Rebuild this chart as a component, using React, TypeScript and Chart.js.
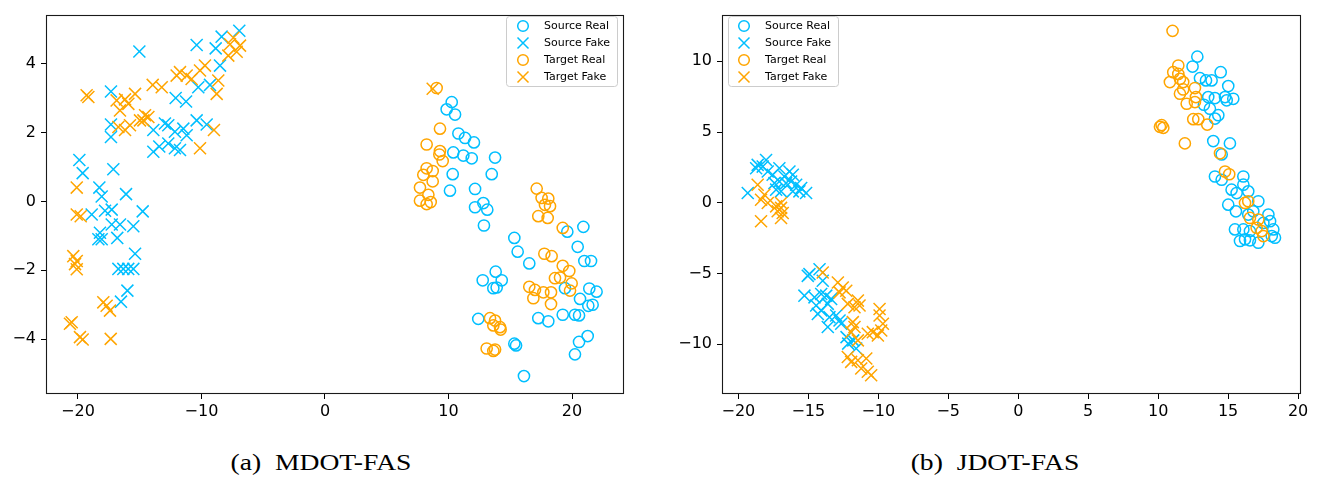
import React, { useEffect, useRef } from "react";
import { Chart, registerables } from "chart.js";

Chart.register(...registerables);

const SOURCE_COLOR = "#00BFFF";
const TARGET_COLOR = "#FFA500";
const legendLabels = ["Source Real", "Source Fake", "Target Real", "Target Fake"];
const captions = ["(a)  MDOT-FAS", "(b)  JDOT-FAS"];

const mdotXTicks = [-20, -10, 0, 10, 20];
const mdotYTicks = [-4, -2, 0, 2, 4];
const jdotXTicks = [-20, -15, -10, -5, 0, 5, 10, 15, 20];
const jdotYTicks = [-10, -5, 0, 5, 10];

type P = [number, number];

// ---------- (a) MDOT-FAS ----------
const mdotSourceReal: P[] = [
  [10.26, 2.88], [9.85, 2.67], [10.53, 2.52], [10.8, 1.97], [11.34, 1.84], [12.06, 1.71],
  [10.39, 1.42], [11.2, 1.33], [11.88, 1.25], [13.77, 1.27], [10.34, 0.79], [13.5, 0.79],
  [10.12, 0.31], [12.15, 0.36], [12.82, -0.05], [12.15, -0.17], [13.14, -0.24], [12.87, -0.7],
  [15.33, -1.06], [19.62, -0.88], [20.92, -0.74], [15.6, -1.46], [20.46, -1.32], [16.54, -1.8],
  [21.0, -1.73], [21.54, -1.73], [13.82, -2.04], [12.77, -2.29], [14.31, -2.29], [13.63, -2.52],
  [13.9, -2.5], [19.43, -2.52], [21.4, -2.53], [21.99, -2.62], [20.65, -2.83], [21.32, -3.03],
  [21.67, -3.0], [12.41, -3.41], [17.27, -3.39], [18.08, -3.48], [19.25, -3.29], [20.24, -3.29],
  [20.57, -3.31], [15.33, -4.13], [15.47, -4.18], [21.27, -3.91], [20.57, -4.08], [20.24, -4.44],
  [16.11, -5.07],
];
const mdotSourceFake: P[] = [
  [-6.94, 4.95], [-8.37, 4.78], [-10.39, 4.54], [-8.85, 4.44], [-15.03, 4.35], [-8.5, 3.94],
  [-17.33, 3.19], [-12.09, 3.0], [-11.25, 2.9], [-10.26, 3.31], [-9.31, 3.38], [-17.33, 2.23],
  [-17.33, 1.87], [-13.9, 2.07], [-12.96, 2.26], [-12.69, 2.21], [-12.15, 2.02], [-11.47, 2.11],
  [-11.2, 1.92], [-10.39, 2.35], [-9.58, 2.23], [-13.9, 1.44], [-13.42, 1.59], [-12.69, 1.68],
  [-12.15, 1.54], [-11.74, 1.49], [-19.89, 1.2], [-19.62, 0.82], [-17.14, 0.93], [-18.27, 0.4],
  [-18.08, 0.14], [-16.11, 0.21], [-17.81, -0.27], [-17.27, -0.24], [-14.76, -0.29], [-18.89, -0.38],
  [-17.27, -0.67], [-16.6, -0.67], [-15.52, -0.72], [-18.22, -0.91], [-18.35, -1.1], [-18.08, -1.1],
  [-16.82, -1.06], [-15.38, -1.52], [-16.73, -1.96], [-16.33, -1.96], [-15.93, -1.96], [-15.52, -1.96],
  [-16.0, -2.59], [-16.52, -2.91],
];
const mdotTargetReal: P[] = [
  [9.04, 3.29], [9.31, 2.11], [8.23, 1.65], [9.31, 1.46], [9.26, 1.36], [9.53, 1.17],
  [8.23, 0.96], [7.96, 0.77], [8.72, 0.88], [8.72, 0.58], [7.69, 0.4], [8.37, 0.19],
  [7.69, 0.02], [8.23, -0.08], [8.56, -0.02], [17.14, 0.37], [17.54, 0.1], [18.08, 0.08],
  [17.81, -0.1], [18.22, -0.14], [17.27, -0.43], [18.03, -0.48], [19.25, -0.77], [17.76, -1.52],
  [18.35, -1.59], [19.25, -1.87], [19.78, -2.02], [18.62, -2.23], [19.03, -2.21], [19.97, -2.38],
  [19.84, -2.59], [16.54, -2.48], [17.0, -2.57], [16.87, -2.81], [18.3, -2.64], [18.3, -2.98],
  [17.68, -2.64], [13.36, -3.39], [13.77, -3.46], [13.63, -3.6], [14.17, -3.65], [14.22, -3.72],
  [13.09, -4.27], [13.63, -4.34], [13.77, -4.3],
];
const mdotTargetFake: P[] = [
  [-7.42, 4.75], [-7.69, 4.56], [-6.88, 4.52], [-7.15, 4.34], [-7.83, 4.23], [-9.72, 3.94],
  [-10.12, 3.8], [-11.74, 3.75], [-12.01, 3.65], [-11.2, 3.65], [-10.8, 3.55], [-8.64, 3.51],
  [-8.77, 3.12], [-13.95, 3.38], [-13.22, 3.31], [-15.38, 3.12], [-19.3, 3.08], [-19.16, 3.03],
  [-16.87, 2.93], [-16.19, 2.96], [-15.92, 2.83], [-16.6, 2.64], [-14.57, 2.5], [-14.3, 2.45],
  [-14.7, 2.35], [-14.98, 2.35], [-16.73, 2.16], [-16.19, 2.07], [-15.79, 2.21], [-8.99, 2.07],
  [-10.12, 1.54], [-20.1, 0.4], [-20.1, -0.38], [-19.78, -0.43], [-20.38, -1.59], [-20.1, -1.73],
  [-20.24, -1.82], [-20.1, -1.97], [-17.95, -2.93], [-17.68, -3.03], [-17.41, -3.17], [-20.51, -3.51],
  [-20.65, -3.55], [-19.84, -3.94], [-19.62, -4.01], [-17.35, -3.99], [8.72, 3.27],
];

// ---------- (b) JDOT-FAS ----------
const jdotSourceReal: P[] = [
  [12.8, 10.33], [12.46, 9.63], [14.47, 9.23], [12.99, 8.81], [13.42, 8.65], [13.82, 8.65],
  [15.01, 8.25], [13.58, 7.47], [14.06, 7.4], [14.78, 7.47], [15.37, 7.35], [14.9, 7.24],
  [13.27, 6.93], [13.7, 6.65], [14.3, 6.19], [14.06, 5.95], [13.94, 4.36], [15.13, 4.2],
  [14.54, 3.42], [14.06, 1.86], [14.54, 1.63], [16.09, 1.86], [16.09, 1.28], [15.25, 0.93],
  [15.61, 0.69], [16.44, 0.81], [15.01, -0.13], [15.56, -0.6], [17.16, 0.11], [16.8, -0.6],
  [16.44, -0.83], [17.88, -0.83], [18.0, -1.3], [17.52, -1.42], [18.23, -1.88], [18.35, -2.47],
  [15.49, -1.88], [16.09, -1.88], [16.56, -2.0], [15.85, -2.7], [16.21, -2.58], [16.56, -2.65],
  [17.16, -2.82], [18.12, -2.35],
];
const jdotSourceFake: P[] = [
  [-18.02, 3.03], [-18.62, 2.68], [-18.73, 2.44], [-18.26, 2.56], [-17.9, 2.21], [-17.07, 2.44],
  [-17.55, 1.98], [-16.35, 2.21], [-16.11, 1.98], [-16.71, 1.86], [-17.07, 1.51], [-16.59, 1.39],
  [-16.23, 1.51], [-15.87, 1.28], [-15.51, 1.04], [-15.16, 0.69], [-15.64, 0.81], [-19.33, 0.69],
  [-17.3, 0.93], [-16.95, 0.81], [-16.11, 0.81], [-17.42, 1.39],
  [-15.04, -5.16], [-14.92, -5.04], [-14.2, -4.69], [-13.97, -5.51], [-15.28, -6.56], [-14.56, -6.68],
  [-14.08, -6.44], [-13.72, -6.56], [-13.37, -6.79], [-13.61, -7.14], [-14.44, -7.26], [-14.08, -7.61],
  [-14.32, -7.85], [-13.49, -8.08], [-13.01, -7.96], [-12.77, -8.32], [-12.65, -8.55], [-13.61, -8.78],
  [-12.27, -9.49], [-12.15, -9.95], [-11.79, -9.72], [-11.58, -10.3],
];
const jdotTargetReal: P[] = [
  [11.03, 12.15], [11.44, 9.7], [11.08, 9.23], [11.44, 9.11], [10.84, 8.53], [11.56, 8.76],
  [11.79, 8.53], [11.79, 8.01], [11.56, 7.71], [12.63, 8.11], [12.7, 7.47], [12.04, 7.0],
  [12.63, 7.12], [12.51, 5.91], [12.87, 5.91], [13.51, 5.53], [10.13, 5.37], [10.25, 5.49],
  [10.37, 5.3], [11.91, 4.2], [14.42, 3.5], [14.78, 2.21], [15.08, 2.02], [16.21, -0.01],
  [16.44, 0.11], [16.56, -1.07], [17.16, -1.18], [17.04, -1.77], [17.4, -2.0], [17.52, -2.35],
];
const jdotTargetFake: P[] = [
  [-18.62, 1.28], [-18.14, 0.57], [-18.38, 0.22], [-17.9, -0.01], [-17.3, -0.25], [-16.95, -0.36],
  [-17.19, -0.6], [-16.83, -0.72], [-16.95, -1.07], [-18.38, -1.3], [-16.95, -0.01],
  [-13.97, -4.93], [-12.89, -5.63], [-12.54, -5.98], [-12.77, -6.33], [-12.29, -6.21], [-12.18, -7.14],
  [-11.46, -6.91], [-11.34, -7.26], [-11.7, -7.38], [-9.91, -7.5], [-9.91, -7.96], [-9.67, -8.55],
  [-11.82, -8.43], [-11.7, -8.78], [-11.94, -9.14], [-10.75, -9.25], [-10.39, -9.14], [-10.03, -9.37],
  [-9.79, -9.02], [-11.46, -9.72], [-12.18, -10.89], [-11.94, -11.24], [-11.46, -11.12], [-10.86, -11.0],
  [-11.22, -11.71], [-10.75, -11.94], [-10.51, -12.18],
];

const fmt = (v: number) => (v < 0 ? "\u2212" + Math.abs(v) : String(v));
const toPts = (a: P[]) => a.map(([x, y]) => ({ x, y }));

const CIRCLE_R = 5.6;
const CROSS_R = 8.5;
const MARK_W = 1.5;

function makeDatasets(sr: P[], sf: P[], tr: P[], tf: P[]) {
  const defs = [
    { data: sr, color: SOURCE_COLOR, style: "circle", r: CIRCLE_R, order: 4 },
    { data: sf, color: SOURCE_COLOR, style: "crossRot", r: CROSS_R, order: 3 },
    { data: tr, color: TARGET_COLOR, style: "circle", r: CIRCLE_R, order: 2 },
    { data: tf, color: TARGET_COLOR, style: "crossRot", r: CROSS_R, order: 1 },
  ];
  return defs.map((d, i) => ({
    label: legendLabels[i],
    data: toPts(d.data),
    order: d.order,
    showLine: false,
    pointStyle: d.style,
    pointRadius: d.r,
    pointHoverRadius: d.r,
    pointBorderWidth: MARK_W,
    pointBorderColor: d.color,
    pointBackgroundColor: "rgba(0,0,0,0)",
    borderColor: d.color,
    backgroundColor: "rgba(0,0,0,0)",
  }));
}

interface LegendGeom {
  x: number; y: number; w: number; h: number;
  markerX: number; textX: number; rows: number[];
}

function makeOverlay(lg: LegendGeom) {
  return {
    id: "overlay",
    afterDraw(chart: any) {
      const ctx: CanvasRenderingContext2D = chart.ctx;
      const a = chart.chartArea;
      ctx.save();
      // frame
      ctx.strokeStyle = "#1a1a1a";
      ctx.lineWidth = 1.1;
      const l = Math.round(a.left) + 0.5, t = Math.round(a.top) + 0.5;
      const r = Math.round(a.right) - 0.5, b = Math.round(a.bottom) - 0.5;
      ctx.strokeRect(l, t, r - l, b - t);
      // legend box
      ctx.beginPath();
      (ctx as any).roundRect(lg.x + 0.5, lg.y + 0.5, lg.w, lg.h, 3);
      ctx.fillStyle = "rgba(255,255,255,0.8)";
      ctx.fill();
      ctx.strokeStyle = "#cccccc";
      ctx.lineWidth = 1;
      ctx.stroke();
      const colors = [SOURCE_COLOR, SOURCE_COLOR, TARGET_COLOR, TARGET_COLOR];
      ctx.font = "11px 'DejaVu Sans'";
      ctx.textBaseline = "middle";
      ctx.textAlign = "left";
      legendLabels.forEach((lab, i) => {
        const y = lg.rows[i];
        ctx.strokeStyle = colors[i];
        ctx.lineWidth = MARK_W;
        ctx.beginPath();
        if (i % 2 === 0) {
          ctx.arc(lg.markerX, y, 5.3, 0, Math.PI * 2);
        } else {
          const d = 5.5;
          ctx.moveTo(lg.markerX - d, y - d);
          ctx.lineTo(lg.markerX + d, y + d);
          ctx.moveTo(lg.markerX - d, y + d);
          ctx.lineTo(lg.markerX + d, y - d);
        }
        ctx.stroke();
        ctx.fillStyle = "#000";
        ctx.fillText(lab, lg.textX, y + 0.5);
      });
      ctx.restore();
    },
  };
}

function axis(min: number, max: number, ticks: number[], isX: boolean, size: number) {
  return {
    type: "linear" as const,
    min,
    max,
    afterBuildTicks: (s: any) => {
      s.ticks = ticks.map((v) => ({ value: v }));
    },
    afterFit: (s: any) => {
      if (isX) s.height = size;
      else s.width = size;
    },
    grid: {
      display: true,
      drawOnChartArea: false,
      drawTicks: true,
      tickLength: 5,
      color: "#000",
      lineWidth: 1,
    },
    border: { display: false },
    ticks: {
      color: "#000",
      font: { family: "'DejaVu Sans'", size: 16 },
      padding: isX ? 3 : 5,
      maxRotation: 0,
      autoSkip: false,
      callback: (v: any) => fmt(Number(v)),
    },
  };
}

interface PanelProps {
  left: number;
  width: number;
  height: number;
  yAxisWidth: number;
  padRight: number;
  xRange: [number, number];
  yRange: [number, number];
  xTicks: number[];
  yTicks: number[];
  datasets: any[];
  legend: LegendGeom;
}

function Panel(p: PanelProps) {
  const ref = useRef<HTMLCanvasElement | null>(null);
  useEffect(() => {
    if (!ref.current) return;
    const chart = new Chart(ref.current, {
      type: "scatter",
      data: { datasets: p.datasets },
      options: {
        responsive: false,
        animation: false,
        devicePixelRatio: 1,
        events: [],
        layout: { padding: { left: 0, top: 12, right: p.padRight, bottom: 0 } },
        plugins: { legend: { display: false }, tooltip: { enabled: false } },
        scales: {
          x: axis(p.xRange[0], p.xRange[1], p.xTicks, true, p.height - 12 - 382),
          y: axis(p.yRange[0], p.yRange[1], p.yTicks, false, p.yAxisWidth),
        },
      } as any,
      plugins: [makeOverlay(p.legend)],
    });
    return () => chart.destroy();
  }, []);
  return (
    <canvas
      ref={ref}
      width={p.width}
      height={p.height}
      style={{ position: "absolute", left: p.left, top: 0, width: p.width, height: p.height }}
    />
  );
}

export default function App() {
  const H = 440;
  return (
    <div
      style={{
        position: "fixed",
        left: 0,
        top: 0,
        width: 1322,
        height: 478,
        background: "#fff",
        overflow: "hidden",
      }}
    >
      <Panel
        left={0}
        width={650}
        height={H}
        yAxisWidth={46}
        padRight={650 - 624}
        xRange={[-22.59, 24.21]}
        yRange={[-5.59, 5.42]}
        xTicks={mdotXTicks}
        yTicks={mdotYTicks}
        datasets={makeDatasets(mdotSourceReal, mdotSourceFake, mdotTargetReal, mdotTargetFake)}
        legend={{ x: 506, y: 16, w: 111, h: 70, markerX: 523, textX: 544, rows: [26, 43, 60, 77] }}
      />
      <Panel
        left={660}
        width={662}
        height={H}
        yAxisWidth={62}
        padRight={662 - 641}
        xRange={[-21.17, 20.21]}
        yRange={[-13.51, 13.3]}
        xTicks={jdotXTicks}
        yTicks={jdotYTicks}
        datasets={makeDatasets(jdotSourceReal, jdotSourceFake, jdotTargetReal, jdotTargetFake)}
        legend={{ x: 68, y: 16, w: 110, h: 70, markerX: 84, textX: 105, rows: [26, 43, 60, 77] }}
      />
      {captions.map((c, i) => (
        <div
          key={c}
          style={{
            position: "absolute",
            left: i === 0 ? 321 : 995,
            top: 449,
            transform: "translateX(-50%) scaleX(1.2)",
            fontFamily: "'Liberation Serif', serif",
            fontSize: 23,
            lineHeight: "28px",
            whiteSpace: "pre",
            color: "#000",
          }}
        >
          {c}
        </div>
      ))}
    </div>
  );
}
